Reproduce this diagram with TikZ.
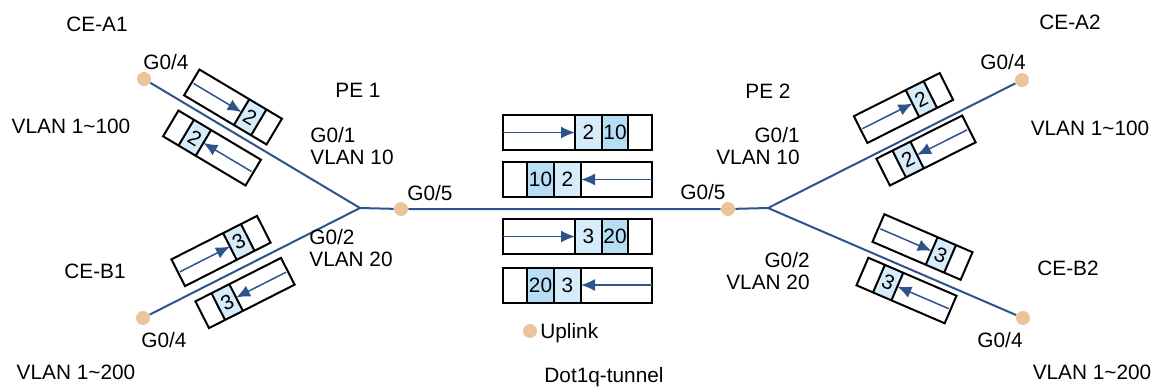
\documentclass[tikz,border=0pt]{standalone}
\usepackage{fontspec}
\setmainfont{Liberation Sans}
\usetikzlibrary{arrows.meta}

\definecolor{linkblue}{RGB}{46,84,140}
\definecolor{portdot}{RGB}{235,196,155}
\definecolor{taginner}{RGB}{214,236,250}
\definecolor{tagouter}{RGB}{184,222,246}

\tikzset{
  link/.style={draw=linkblue, line width=1pt},
  port/.style={circle, fill=portdot, minimum size=7pt, inner sep=0pt},
  lbl/.style={inner sep=0pt, font=\fontsize{10.4}{11}\selectfont},
  box/.style={draw=black, line width=1pt},
  flow/.style={draw=linkblue, line width=0.75pt, -{Latex[length=7pt,width=6pt]}},
  % one tag, frame moving towards +x
  pics/tagfwd/.style={code={
    \fill[taginner] (10,-15) rectangle (30,15);
    \draw[box] (-48,-15) rectangle (48,15) (10,-15) -- (10,15) (30,-15) -- (30,15);
    \draw[flow] (-46,0) -- (10,0);
    \node[lbl, transform shape] at (20,0) {#1};
  }},
  % one tag, frame moving towards -x
  pics/tagback/.style={code={
    \fill[taginner] (-30,-15) rectangle (-10,15);
    \draw[box] (-48,-15) rectangle (48,15) (-30,-15) -- (-30,15) (-10,-15) -- (-10,15);
    \draw[flow] (46,0) -- (-10,0);
    \node[lbl, transform shape] at (-20,0) {#1};
  }},
  % two tags (inner #1, outer #2)
  pics/dtagfwd/.style 2 args={code={
    \fill[taginner] (-2.5,-17.5) rectangle (24.5,17.5);
    \fill[tagouter] (24.5,-17.5) rectangle (50.5,17.5);
    \draw[box] (-74.5,-17.5) rectangle (74.5,17.5)
      (-2.5,-17.5) -- (-2.5,17.5) (24.5,-17.5) -- (24.5,17.5) (50.5,-17.5) -- (50.5,17.5);
    \draw[flow] (-74.5,0) -- (-2.5,0);
    \node[lbl] at (11,0) {#1};
    \node[lbl] at (37.5,0) {#2};
  }},
  pics/dtagback/.style 2 args={code={
    \fill[tagouter] (-50.5,-17.5) rectangle (-23.5,17.5);
    \fill[taginner] (-23.5,-17.5) rectangle (3.5,17.5);
    \draw[box] (-74.5,-17.5) rectangle (74.5,17.5)
      (-50.5,-17.5) -- (-50.5,17.5) (-23.5,-17.5) -- (-23.5,17.5) (3.5,-17.5) -- (3.5,17.5);
    \draw[flow] (74.5,0) -- (3.5,0);
    \node[lbl] at (-37,0) {#2};
    \node[lbl] at (-10,0) {#1};
  }}
}

\begin{document}
\begin{tikzpicture}[x=0.5pt, y=-0.5pt]
    \useasboundingbox (0,0) rectangle (1159,388);

    % ports
    \node[port] (ceA1) at (144,79) {};
    \node[port] (ceB1) at (143,318) {};
    \node[port] (up1) at (401,209) {};
    \node[port] (up2) at (728,209) {};
    \node[port] (ceA2) at (1022,80) {};
    \node[port] (ceB2) at (1023,318) {};
    \coordinate (j1) at (360,208);
    \coordinate (j2) at (768,208);

    % links
    \draw[link] (ceA1) -- (j1) -- (ceB1);
    \draw[link] (j1) -- (up1) -- (up2) -- (j2);
    \draw[link] (ceA2) -- (j2) -- (ceB2);

    % frames on the CE side
    \pic[rotate=-30.8] at (233,107) {tagfwd=2};
    \pic[rotate=-30.8] at (212,148) {tagback=2};
    \pic[rotate=26.9] at (221,251) {tagfwd=3};
    \pic[rotate=26.9] at (245,293) {tagback=3};
    \pic[rotate=26.7] at (903.5,108) {tagfwd=2};
    \pic[rotate=26.7] at (926,150.5) {tagback=2};
    \pic[rotate=-23.3] at (922.5,247) {tagfwd=3};
    \pic[rotate=-23.3] at (906.5,290.5) {tagback=3};

    % frames in the tunnel
    \pic at (577.5,132.5) {dtagfwd={2}{10}};
    \pic at (577.5,179.5) {dtagback={2}{10}};
    \pic at (577.5,236.5) {dtagfwd={3}{20}};
    \pic at (577.5,285) {dtagback={3}{20}};

    % labels, left
    \node[lbl] (nCEA1) at (97,24) {CE-A1};
    \node[lbl] (pA1) at (166,62) {G0/4};
    \node[lbl] (vA1) at (71,126) {VLAN 1\textasciitilde100};
    \node[lbl] (nCEB1) at (95,271) {CE-B1};
    \node[lbl] (pB1) at (164,340) {G0/4};
    \node[lbl] (vB1) at (76,372) {VLAN 1\textasciitilde200};
    \node[lbl] (nPE1) at (358,90) {PE 1};
    \node[lbl, anchor=west, align=left] (p1g1) at (310,146) {G0/1\\VLAN 10};
    \node[lbl] (p1g5) at (430,193) {G0/5};
    \node[lbl, anchor=west, align=left] (p1g2) at (309,248) {G0/2\\VLAN 20};

    % labels, right
    \node[lbl] (nPE2) at (768,91) {PE 2};
    \node[lbl, anchor=east, align=right] (p2g1) at (800,146) {G0/1\\VLAN 10};
    \node[lbl] (p2g5) at (703,192) {G0/5};
    \node[lbl, anchor=east, align=right] (p2g2) at (810,271) {G0/2\\VLAN 20};
    \node[lbl] (nCEA2) at (1070,22) {CE-A2};
    \node[lbl] (pA2) at (1003,62) {G0/4};
    \node[lbl] (vA2) at (1090,128) {VLAN 1\textasciitilde100};
    \node[lbl] (nCEB2) at (1068,268) {CE-B2};
    \node[lbl] (pB2) at (1000,340) {G0/4};
    \node[lbl] (vB2) at (1092,372) {VLAN 1\textasciitilde200};

    % legend
    \node[port] (key) at (530,331) {};
    \node[lbl, anchor=west] (keytxt) at (540,333) {Uplink};
    \node[lbl] (title) at (604,377) {Dot1q-tunnel};
\end{tikzpicture}
\end{document}
